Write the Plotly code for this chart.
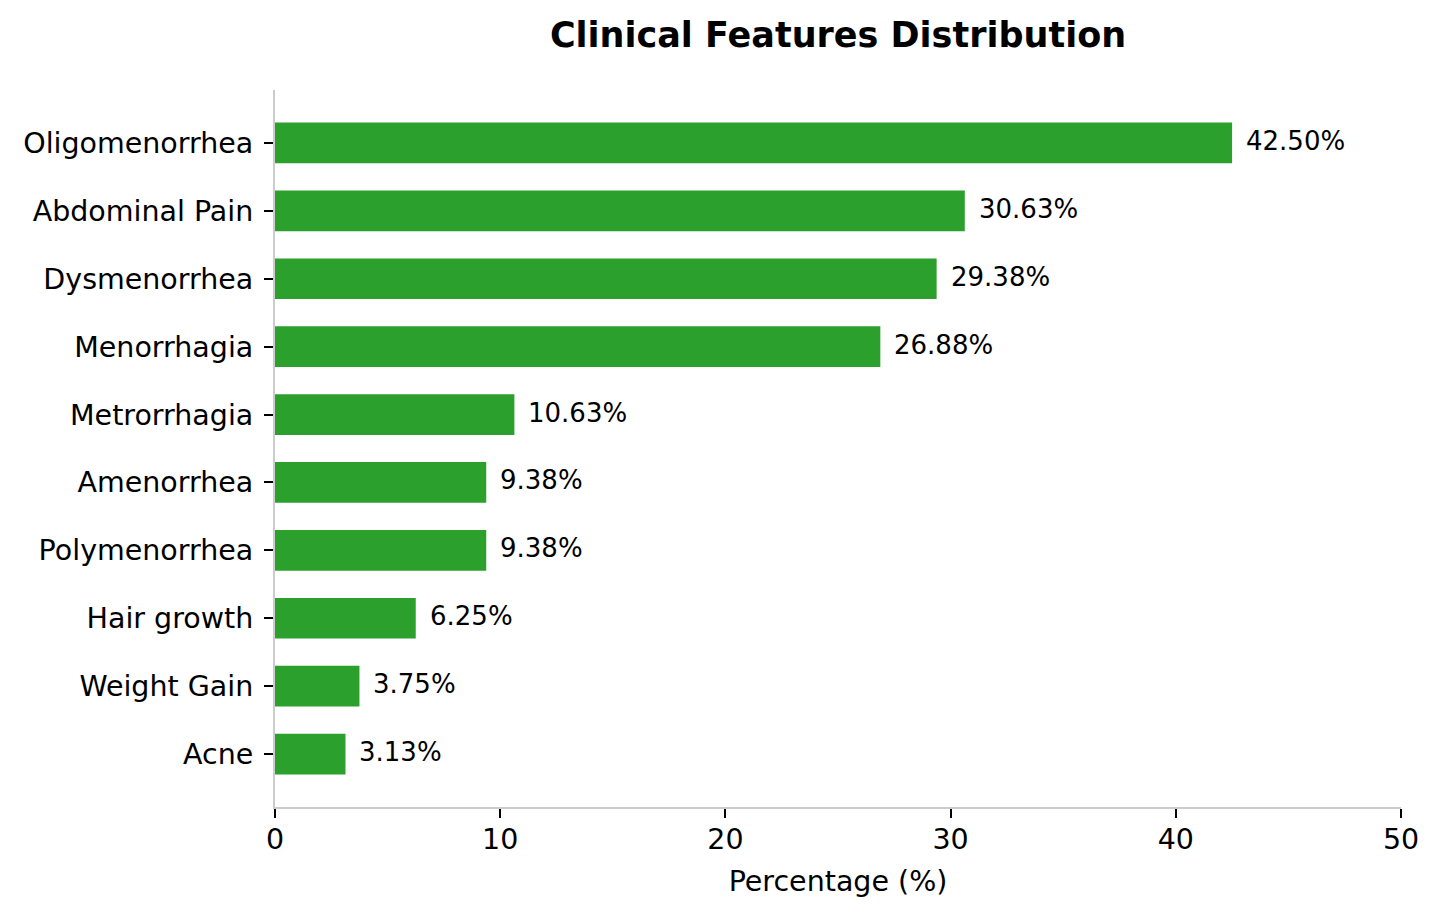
import plotly.graph_objects as go

categories = ["Acne", "Weight Gain", "Hair growth", "Polymenorrhea", "Amenorrhea",
              "Metrorrhagia", "Menorrhagia", "Dysmenorrhea", "Abdominal Pain", "Oligomenorrhea"]
values = [3.13, 3.75, 6.25, 9.38, 9.38, 10.63, 26.88, 29.38, 30.63, 42.50]
x_ticks = [0, 10, 20, 30, 40, 50]

FONT = "DejaVu Sans"
idx = list(range(len(categories)))

fig = go.Figure()
fig.add_trace(go.Bar(
    x=values, y=idx, orientation="h", width=0.6,
    marker=dict(color="#2ca02c", line=dict(width=0)),
    hoverinfo="skip",
))

for i, v in zip(idx, values):
    fig.add_annotation(
        x=v, y=i, xref="x", yref="y", text=f"{v:.2f}%",
        showarrow=False, xanchor="left", yanchor="middle", xshift=12, yshift=2,
        font=dict(family=FONT, size=26, color="black"),
    )

fig.update_layout(
    width=1440, height=918,
    paper_bgcolor="white", plot_bgcolor="white",
    margin=dict(l=267, r=47, t=82, b=119, autoexpand=False),
    showlegend=False,
    font=dict(family=FONT, color="black"),
    title=dict(
        text="<b>Clinical Features Distribution</b>",
        x=0.5, xref="paper", xanchor="center",
        y=1 - 27 / 918, yref="container", yanchor="middle",
        font=dict(family=FONT, size=35, color="black"),
    ),
    xaxis=dict(
        range=[0, 50], tickvals=x_ticks, ticktext=[str(t) for t in x_ticks],
        showgrid=False, zeroline=False,
        showline=True, linecolor="#cccccc", linewidth=2,
        ticks="outside", ticklen=9, tickwidth=2, tickcolor="black",
        ticklabelstandoff=-3,
        tickfont=dict(family=FONT, size=28.5, color="black"),
        title=dict(text="Percentage (%)", standoff=16,
                   font=dict(family=FONT, size=28.5, color="black")),
    ),
    yaxis=dict(
        range=[-0.78, 9.78], tickvals=idx, ticktext=categories,
        showgrid=False, zeroline=False,
        showline=True, linecolor="#cccccc", linewidth=2,
        ticks="outside", ticklen=9, tickwidth=2, tickcolor="black",
        ticklabelstandoff=5,
        tickfont=dict(family=FONT, size=28.5, color="black"),
    ),
)

fig.write_html("out.html")
